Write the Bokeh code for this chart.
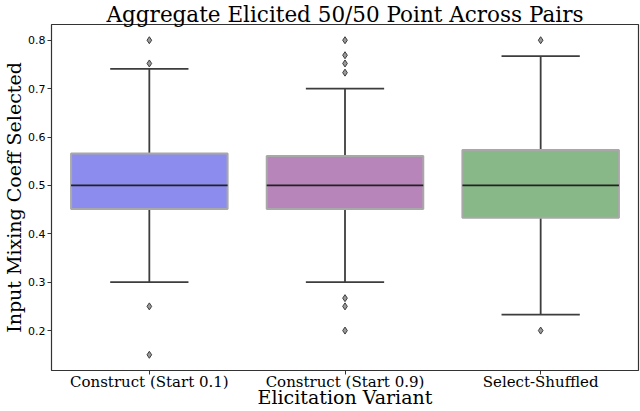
from bokeh.plotting import figure
from bokeh.models import Range1d, FixedTicker, ColumnDataSource
from bokeh.embed import file_html
from bokeh.resources import INLINE

categories = ["Construct (Start 0.1)", "Construct (Start 0.9)", "Select-Shuffled"]
q1 = [0.451, 0.451, 0.433]
median = [0.5, 0.5, 0.5]
q3 = [0.566, 0.561, 0.573]
whisker_lo = [0.30, 0.30, 0.233]
whisker_hi = [0.741, 0.70, 0.767]
colors = ["#8c8cef", "#b885bb", "#88b888"]
outlier_cat = [0, 0, 0, 0, 1, 1, 1, 1, 1, 1, 1, 2, 2]
outlier_val = [0.80, 0.752, 0.25, 0.15, 0.80, 0.769, 0.752, 0.733, 0.267, 0.25, 0.20, 0.80, 0.20]

xs = list(range(len(categories)))

p = figure(width=640, height=411, output_backend="svg", toolbar_location=None,
           x_range=Range1d(-0.5, 2.5), y_range=Range1d(0.1175, 0.8325),
           min_border_left=49, min_border_right=2, min_border_top=24, min_border_bottom=41)

p.title.text = "Aggregate Elicited 50/50 Point Across Pairs"
p.title.text_font = "DejaVu Serif"
p.title.text_font_size = "21.5px"
p.title.text_font_style = "normal"
p.title.align = "center"
p.title.text_color = "#000000"
p.title.standoff = -5
p.title.offset = 0

p.xgrid.visible = False
p.ygrid.visible = False
p.outline_line_color = "#333333"
p.outline_line_width = 1.2

src = ColumnDataSource(dict(x=xs, q1=q1, q3=q3, med=median, lo=whisker_lo, hi=whisker_hi,
                            color=colors, capl=[x - 0.2 for x in xs], capr=[x + 0.2 for x in xs],
                            bl=[x - 0.4 for x in xs], br=[x + 0.4 for x in xs]))

wc = "#3d3d3d"
p.segment(x0="x", y0="q3", x1="x", y1="hi", source=src, line_color=wc, line_width=1.8)
p.segment(x0="x", y0="lo", x1="x", y1="q1", source=src, line_color=wc, line_width=1.8)
p.segment(x0="capl", y0="hi", x1="capr", y1="hi", source=src, line_color=wc, line_width=1.8)
p.segment(x0="capl", y0="lo", x1="capr", y1="lo", source=src, line_color=wc, line_width=1.8)
p.vbar(x="x", width=0.8, bottom="q1", top="q3", source=src, fill_color="color",
       line_color="#a8a8a8", line_width=2)
p.segment(x0="bl", y0="med", x1="br", y1="med", source=src, line_color="#222222", line_width=1.6)

p.scatter(x=outlier_cat, y=outlier_val, marker="diamond", size=7,
          fill_color="#9a9a9a", line_color="#3d3d3d", line_width=1)

p.xaxis.ticker = FixedTicker(ticks=xs)
p.xaxis.major_label_overrides = {i: c for i, c in enumerate(categories)}
p.xaxis.axis_label = "Elicitation Variant"
p.yaxis.axis_label = "Input Mixing Coeff Selected"
p.yaxis.ticker = FixedTicker(ticks=[0.2, 0.3, 0.4, 0.5, 0.6, 0.7, 0.8])

for ax in (p.xaxis[0], p.yaxis[0]):
    ax.axis_line_color = None
    ax.major_tick_line_color = "#333333"
    ax.major_tick_out = 4
    ax.major_tick_in = 0
    ax.minor_tick_line_color = None
    ax.axis_label_text_font = "DejaVu Serif"
    ax.axis_label_text_font_size = "19px"
    ax.axis_label_text_font_style = "normal"
    ax.axis_label_text_color = "#000000"
    ax.major_label_text_color = "#000000"

p.xaxis.major_label_text_font = "DejaVu Serif"
p.xaxis.major_label_text_font_size = "15px"
p.xaxis.major_label_standoff = -2
p.xaxis.axis_label_standoff = -8
p.yaxis.major_label_text_font = "DejaVu Sans"
p.yaxis.major_label_text_font_size = "11px"
p.yaxis.major_label_standoff = 2
p.yaxis.axis_label_standoff = 0

open("out.html", "w").write(file_html(p, INLINE))
